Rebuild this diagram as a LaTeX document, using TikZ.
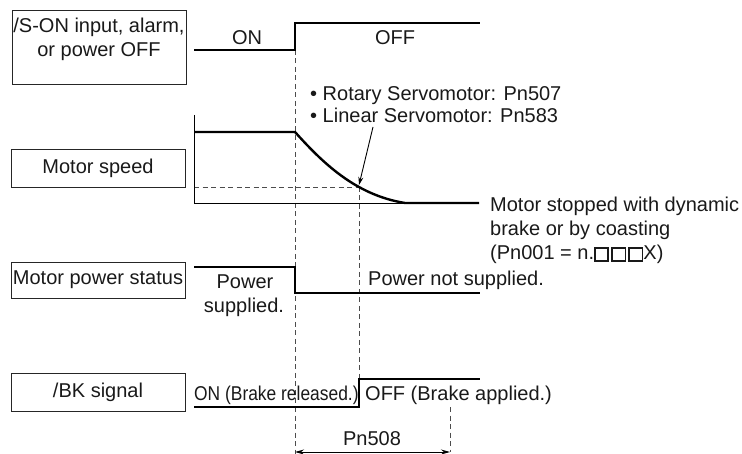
\documentclass[tikz,border=0pt]{standalone}
\usepackage{fontspec}
\usepackage{graphicx}
\setmainfont{Liberation Sans}
\usetikzlibrary{arrows.meta}
\newcommand{\sqbox}{{\setlength{\fboxsep}{0pt}\setlength{\fboxrule}{1.8pt}\raisebox{-0.5pt}{\fbox{\rule{0pt}{11.5pt}\rule{11.5pt}{0pt}}}}\hspace{2pt}}
\begin{document}
\begin{tikzpicture}[x=1pt,y=-1pt,
  every node/.style={font=\fontsize{20}{24}\selectfont, inner sep=0pt, text=black!90},
  lbox/.style={draw=black!85, line width=0.9pt, minimum width=174pt},
  sig/.style={line width=2.4pt, line join=miter},
  thin/.style={line width=0.9pt},
  guide/.style={line width=0.8pt, dash pattern=on 5pt off 3.5pt, draw=black!70},
  txt/.style={anchor=base}]
\useasboundingbox (0,0) rectangle (742,454);
% label boxes
\node[lbox, minimum height=74pt] (b1) at (99,47) {};
\node[txt] (b1a) at (99,33) {/S-ON input, alarm,};
\node[txt] (b1b) at (99,57) {or power OFF};
\node[lbox, minimum height=38pt] (b2) at (98,168) {Motor speed};
\node[lbox, minimum height=36pt] (b3) at (98,280) {Motor power status};
\node[lbox, minimum height=38pt] (b4) at (98,392) {/BK signal};
% key coordinates
\coordinate (t0) at (295,50);
\coordinate (t0b) at (295,454);
\coordinate (t1) at (359,187);
\coordinate (t1b) at (359,379);
\coordinate (t2) at (450,407);
\coordinate (t2b) at (450,452);
% guides
\draw[guide] (t0) -- (t0b);
\draw[guide] (t1) -- (t1b);
\draw[guide] (t2) -- (t2b);
\draw[guide] (194,187) -- (t1);
% signal 1
\draw[sig] (194,50) -- (t0) -- (295,23) -- (480,23);
\node[txt] (on1) at (247,45) {ON};
\node[txt] (off1) at (395,45) {OFF};
% motor speed
\draw[thin] (194,115) -- (194,203) -- (405,203);
\draw[sig] (194,132) -- (295,132) .. controls (322,162) and (355,195) .. (405,203) -- (479,203);
\node[anchor=base west] (rot) at (310,101) {\textbullet\ Rotary Servomotor: Pn507};
\node[anchor=base west] (lin) at (310,123) {\textbullet\ Linear Servomotor: Pn583};
\coordinate (arrtip) at (359,185);
\draw[thin, -{Stealth[length=8pt,width=5pt]}] (373,127) -- (arrtip);
\node[anchor=base west] (ms1) at (490,212) {Motor stopped with dynamic};
\node[anchor=base west] (ms2) at (490,236) {brake or by coasting};
\node[anchor=base west] (ms3) at (490,260) {(Pn001 = n.\sqbox\sqbox\sqbox\hspace{-2pt}X)};
% motor power status
\draw[sig] (194,267) -- (295,267) -- (295,293) -- (480,293);
\node[txt] (ps1) at (245,289) {Power};
\node[txt] (ps2) at (244,313) {supplied.};
\node[anchor=base west] (pns) at (368,286) {Power not supplied.};
% BK signal
\draw[sig] (194,407) -- (359,407) -- (t1b) -- (480,379);
\node[anchor=base west] (bkon) at (194,400) {\scalebox{0.87}[1]{ON (Brake released.)}};
\node[anchor=base west] (bkoff) at (365,400) {OFF (Brake applied.)};
% Pn508
\draw[thin, {Stealth[length=9pt,width=5pt]}-{Stealth[length=9pt,width=5pt]}] (295,452) -- (t2b);
\node[txt] (pn508) at (372,445) {Pn508};
\end{tikzpicture}
\end{document}
